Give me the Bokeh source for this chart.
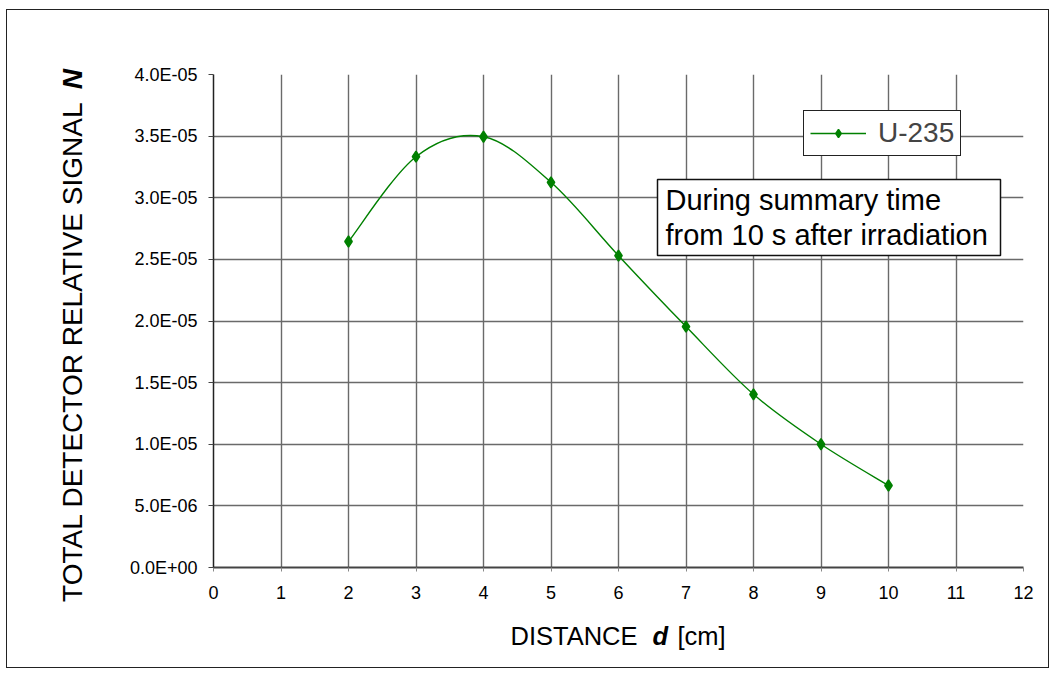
import numpy as np
from bokeh.plotting import figure
from bokeh.models import (Range1d, FixedTicker, Legend, LegendItem, BoxAnnotation,
                          Label, CustomJSTickFormatter)
from bokeh.embed import file_html
from bokeh.resources import INLINE

# ---------------- data ----------------
distance_cm = [2, 3, 4, 5, 6, 7, 8, 9, 10]
signal_u235 = [2.645e-5, 3.333e-5, 3.495e-5, 3.125e-5, 2.53e-5,
               1.955e-5, 1.405e-5, 1.0e-5, 6.65e-6]
series_name = "U-235"

x_ticks = [0, 1, 2, 3, 4, 5, 6, 7, 8, 9, 10, 11, 12]
y_ticks = [0, 5e-6, 1e-5, 1.5e-5, 2e-5, 2.5e-5, 3e-5, 3.5e-5, 4e-5]
y_tick_labels = ["0.0E+00", "5.0E-06", "1.0E-05", "1.5E-05", "2.0E-05",
                 "2.5E-05", "3.0E-05", "3.5E-05", "4.0E-05"]

x_title = ["DISTANCE", "d", "[cm]"]
y_title = ["TOTAL DETECTOR RELATIVE SIGNAL", "N"]
note_lines = ["During summary time", "from 10 s after irradiation"]

# ---------------- layout constants ----------------
FONT = "Liberation Sans"
GREEN = "#008000"
W, H = 1043, 659
MB_L, MB_T, MB_R, MB_B = 206, 64, 27, 102
OX, OY = 7, 10  # page offset of figure canvas
X0, X1 = 0, 12
Y0, Y1 = 0, 4e-5
FL = OX + MB_L
FB = OY + H - MB_B
FW = W - MB_L - MB_R
FH = H - MB_T - MB_B


def fx(px):
    return X0 + (px - FL) / FW * (X1 - X0)


def fy(py):
    return Y0 + (FB - py) / FH * (Y1 - Y0)


p = figure(width=W, height=H, output_backend="svg", toolbar_location=None, title=None,
           x_range=Range1d(X0, X1), y_range=Range1d(Y0, Y1),
           min_border_left=MB_L, min_border_top=MB_T,
           min_border_right=MB_R, min_border_bottom=MB_B)
p.styles = {"border": "1px solid #222222", "margin-left": "6px", "margin-top": "9px"}
p.outline_line_color = None
p.background_fill_color = "white"
p.border_fill_color = "white"

# grid
p.xgrid.ticker = FixedTicker(ticks=x_ticks)
p.ygrid.ticker = FixedTicker(ticks=y_ticks)
for g in (p.xgrid, p.ygrid):
    g.grid_line_color = "#6a6a6a"
    g.grid_line_width = 1.4

# axes
p.xaxis.ticker = FixedTicker(ticks=x_ticks)
p.yaxis.ticker = FixedTicker(ticks=y_ticks)
p.yaxis.formatter = CustomJSTickFormatter(
    args=dict(tvals=y_ticks, tlabels=y_tick_labels),
    code="""
    for (let i = 0; i < tvals.length; i++) {
        if (Math.abs(tvals[i] - tick) < 1e-12) { return tlabels[i]; }
    }
    return "";
    """)
for ax in (p.xaxis[0], p.yaxis[0]):
    ax.major_label_text_font = FONT
    ax.major_label_text_font_size = "18px"
    ax.major_label_text_color = "black"
    ax.minor_tick_line_color = None
    ax.major_tick_in = 0
    ax.axis_label = None
p.xaxis.axis_line_color = "#444444"
p.xaxis.axis_line_width = 2
p.xaxis.major_tick_out = 4
p.xaxis.major_tick_line_color = "#888888"
p.xaxis.major_label_standoff = 14
p.yaxis.axis_line_color = "#222222"
p.yaxis.axis_line_width = 1.5
p.yaxis.major_tick_out = 5
p.yaxis.major_tick_line_color = "#444444"
p.yaxis.major_label_standoff = 11

# smooth curve (Catmull-Rom -> cubic Bezier, like a spreadsheet smoothed line)
xs = np.array(distance_cm, dtype=float)
ys = np.array(signal_u235, dtype=float)
xp = np.concatenate([[xs[0]], xs, [xs[-1]]])
yp = np.concatenate([[ys[0]], ys, [ys[-1]]])
n = len(xs)
x0 = xs[:-1]; y0 = ys[:-1]
x1 = xs[1:]; y1 = ys[1:]
cx0 = x0 + (xp[2:n + 1] - xp[0:n - 1]) / 6.0
cy0 = y0 + (yp[2:n + 1] - yp[0:n - 1]) / 6.0
cx1 = x1 - (xp[3:n + 2] - xp[1:n]) / 6.0
cy1 = y1 - (yp[3:n + 2] - yp[1:n]) / 6.0

curve = p.bezier(x0=x0, y0=y0, x1=x1, y1=y1, cx0=cx0, cy0=cy0, cx1=cx1, cy1=cy1,
                 line_color=GREEN, line_width=1.4)
pts = p.scatter(distance_cm, signal_u235, marker="diamond", size=11,
                fill_color=GREEN, line_color=GREEN, line_width=1.5)

legend = Legend(items=[LegendItem(label=series_name, renderers=[curve, pts])],
                glyph_width=56, glyph_height=20,
                label_standoff=12, padding=6, spacing=0, margin=0,
                label_text_font=FONT, label_text_font_size="28px",
                border_line_color="#222222", border_line_width=1.2, border_line_alpha=1.0,
                background_fill_color="white", background_fill_alpha=1.0)
legend.location = (803 - FL, FB - 156)
p.add_layout(legend)

# note box
note = BoxAnnotation(left=fx(657), right=fx(1000), top=fy(179), bottom=fy(255),
                     fill_color="white", fill_alpha=1.0,
                     line_color="#111111", line_width=1.5, line_alpha=1.0)
p.add_layout(note)
for txt, base in zip(note_lines, [199, 234]):
    p.add_layout(Label(x=fx(665), y=fy(base), text=txt, text_font=FONT,
                       text_font_size="29px", text_color="black",
                       text_align="left", text_baseline="alphabetic"))


def mk(text, style, size, **kw):
    return Label(text=text, text_font=FONT, text_font_size=size, text_font_style=style,
                 text_color="black", text_align="left", text_baseline="alphabetic", **kw)


# x axis title pieces (placed in side panels so they are not clipped to the frame;
# their positions are in data units, so the panel does not matter)
p.add_layout(mk(x_title[0], "normal", "25.5px", x=fx(510), y=fy(635)), "below")
p.add_layout(mk(x_title[1], "bold italic", "25.5px", x=fx(652), y=fy(635)), "above")
p.add_layout(mk(x_title[2], "normal", "25.5px", x=fx(677), y=fy(635)), "above")

# y axis title (rotated)
YFS = 28
main_len = 18.06 * YFS
gap = 0.25 * YFS
total = main_len + gap + 0.722 * YFS
ystart = 335 + total / 2
p.add_layout(mk(y_title[0], "normal", f"{YFS}px", x=fx(72), y=fy(ystart),
                angle=np.pi / 2), "left")
p.add_layout(mk(y_title[1], "bold italic", f"{YFS}px", x=fx(72),
                y=fy(ystart - main_len - gap), angle=np.pi / 2), "left")

open("out.html", "w").write(file_html(p, INLINE))
